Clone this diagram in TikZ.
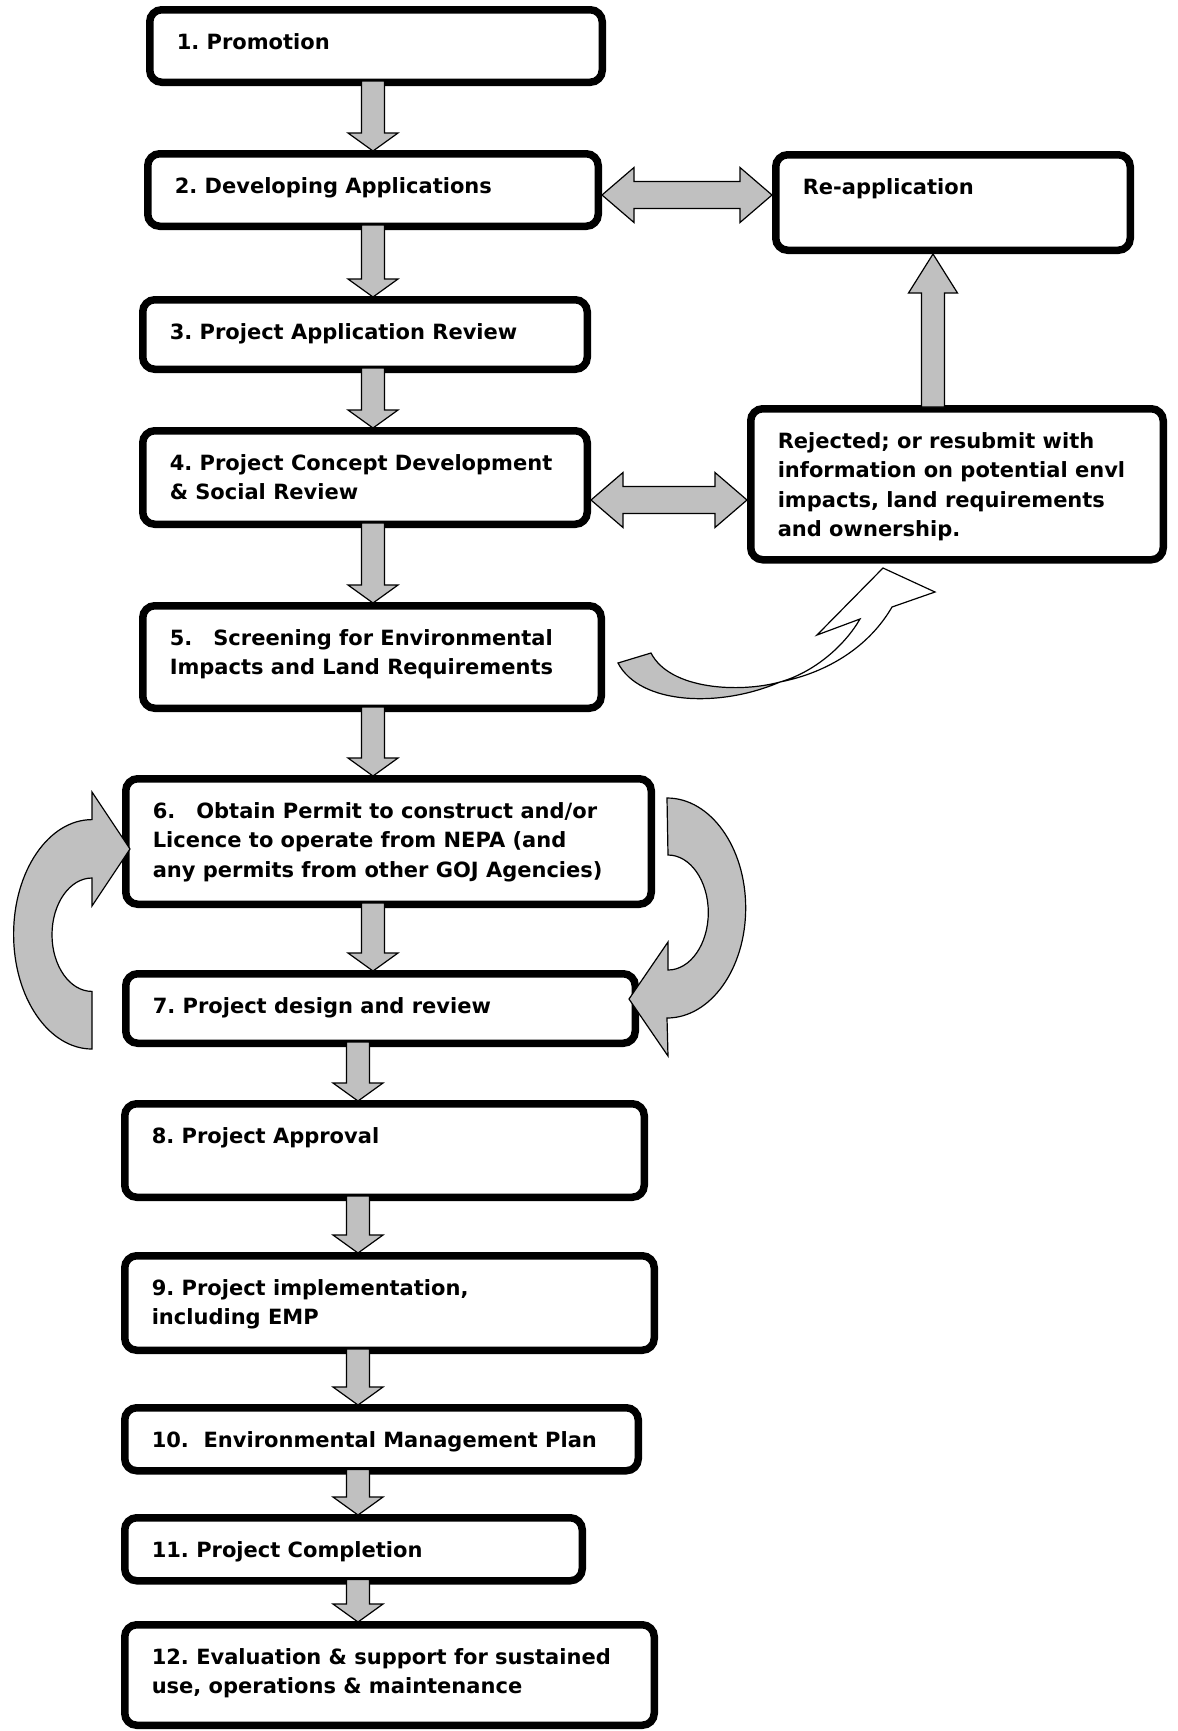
\documentclass[tikz,border=0pt]{standalone}
\usepackage{fontspec}
\setmainfont{DejaVu Sans}
\usetikzlibrary{calc,positioning}
\definecolor{arrowgray}{HTML}{C0C0C0}
\tikzset{
    stepbox/.style = {draw, rectangle, rounded corners=6pt, line width=3.75pt,
        outer sep=1.875pt, inner xsep=13.5pt, inner ysep=9pt, anchor=north west,
        font=\fontsize{10.5}{14.6}\selectfont\bfseries},
    blockarrow/.style = {draw, fill=arrowgray, line width=0.6pt, line join=miter},
    ribbon/.style = {draw, line width=0.6pt}
}
\newcommand{\steptext}[3]{\parbox[t][#2][t]{#1}{\raggedright\frenchspacing\rule{0pt}{11pt}#3}}
\newcommand{\downblock}[3]{%
  \draw[blockarrow] ($(#1.south -| #3)+(-11.5,-5)$) -- ($(#2.north -| #3)+(-11.5,-17)$)
    -- ++(-13.5,0) -- ($(#2.north -| #3)+(0,1)$) -- ($(#2.north -| #3)+(25,-17)$)
    -- ++(-13.5,0) -- ($(#1.south -| #3)+(11.5,-5)$) -- cycle;}
\newcommand{\twoblock}[3]{%
  \draw[blockarrow] (#1.east |- #3) -- ++(32,-27.5) -- ++(0,14) -- ($(#2.west |- #3)+(-32,-13.5)$)
    -- ++(0,-14) -- (#2.west |- #3) -- ++(-32,27.5) -- ++(0,-14) -- ($(#1.east |- #3)+(32,13.5)$)
    -- ++(0,14) -- cycle;}

\begin{document}
\begin{tikzpicture}[x=0.5pt, y=-0.5pt]
    \useasboundingbox (0,0) rectangle (1178,1731);
    \node [stepbox] (s1) at (146,6) {\steptext{199.25pt}{18.25pt}{1. Promotion}};
    \node [stepbox] (s2) at (144,150) {\steptext{198.25pt}{18.25pt}{2. Developing Applications}};
    \node [stepbox] (reapp) at (772,151) {\steptext{150.25pt}{29.75pt}{Re-application}};
    \node [stepbox] (s3) at (139,296) {\steptext{195.25pt}{16.75pt}{3. Project Application Review}};
    \node [stepbox] (s4) at (139,427) {\steptext{195.25pt}{28.75pt}{4. Project Concept Development\\\& Social Review}};
    \node [stepbox] (rej) at (747,405) {\steptext{179.25pt}{57.5pt}{Rejected; or resubmit with\\information on potential envl\\impacts, land requirements\\and ownership.}};
    \node [stepbox] (s5) at (139,602) {\steptext{202.25pt}{33.25pt}{5.\quad Screening for Environmental\\Impacts and Land Requirements}};
    \node [stepbox] (s6) at (122,775) {\steptext{235.75pt}{44.75pt}{6.\quad Obtain Permit to construct and/or\\Licence to operate from NEPA (and\\any permits from other GOJ Agencies)}};
    \node [stepbox] (s7) at (122,970) {\steptext{227.75pt}{16.75pt}{7. Project design and review}};
    \node [stepbox] (s8) at (121,1100) {\steptext{232.75pt}{28.75pt}{8. Project Approval}};
    \node [stepbox] (s9) at (121,1252) {\steptext{237.75pt}{29.25pt}{9. Project implementation,\\including EMP}};
    \node [stepbox] (s10) at (121,1404) {\steptext{229.75pt}{13.5pt}{10.\ \ Environmental Management Plan}};
    \node [stepbox] (s11) at (121,1514) {\steptext{201.75pt}{13.5pt}{11. Project Completion}};
    \node [stepbox] (s12) at (121,1621) {\steptext{237.75pt}{32.25pt}{12. Evaluation \& support for sustained\\use, operations \& maintenance}};
    \coordinate (colA) at (373,0);
    \coordinate (colB) at (358,0);
    \coordinate (colC) at (933,0);
    \coordinate (rowA) at (0,195);
    \coordinate (rowB) at (0,500);
    \downblock{s1}{s2}{colA}
    \downblock{s2}{s3}{colA}
    \downblock{s3}{s4}{colA}
    \downblock{s4}{s5}{colA}
    \downblock{s5}{s6}{colA}
    \downblock{s6}{s7}{colA}
    \downblock{s7}{s8}{colB}
    \downblock{s8}{s9}{colB}
    \downblock{s9}{s10}{colB}
    \downblock{s10}{s11}{colB}
    \downblock{s11}{s12}{colB}
    \twoblock{s2}{reapp}{rowA}
    \twoblock{s4}{rej}{rowB}
    \draw [blockarrow] ($(rej.north -| colC)+(-11.5,2)$) -- ($(reapp.south -| colC)+(-11.5,39)$) -- ++(-13,0)
        -- (reapp.south -| colC) -- ($(reapp.south -| colC)+(24.5,39)$) -- ++(-13,0)
        -- ($(rej.north -| colC)+(11.5,2)$) -- cycle;
    % twisted arrow from step 5 up to the rejected box
    \draw [ribbon, fill=arrowgray] (618,663) .. controls (640,705) and (720,708) .. (780,682)
        .. controls (740,693) and (670,690) .. (651,653) -- cycle;
    \draw [ribbon, fill=white] (780,682) .. controls (815,672) and (845,645) .. (860,619) -- (817,635)
        -- (883,568) -- (935,592) -- (892,607) .. controls (870,645) and (830,672) .. (780,682) -- cycle;
    % loops between steps 6 and 7
    \draw [blockarrow] (92,1049) arc[start angle=270, end angle=90, x radius=39.2pt, y radius=57.35pt]
        -- (92,792) -- (130,849) -- (92,906) -- (92,878)
        arc[start angle=90, end angle=270, x radius=20pt, y radius=28.35pt] -- cycle;
    \draw [blockarrow] (667,798) arc[start angle=90, end angle=-90, x radius=39.35pt, y radius=55pt]
        -- (668,1056) -- (629,999) -- (668,942) -- (668,970)
        arc[start angle=-90, end angle=90, x radius=20.15pt, y radius=28.75pt] -- cycle;
\end{tikzpicture}
\end{document}
